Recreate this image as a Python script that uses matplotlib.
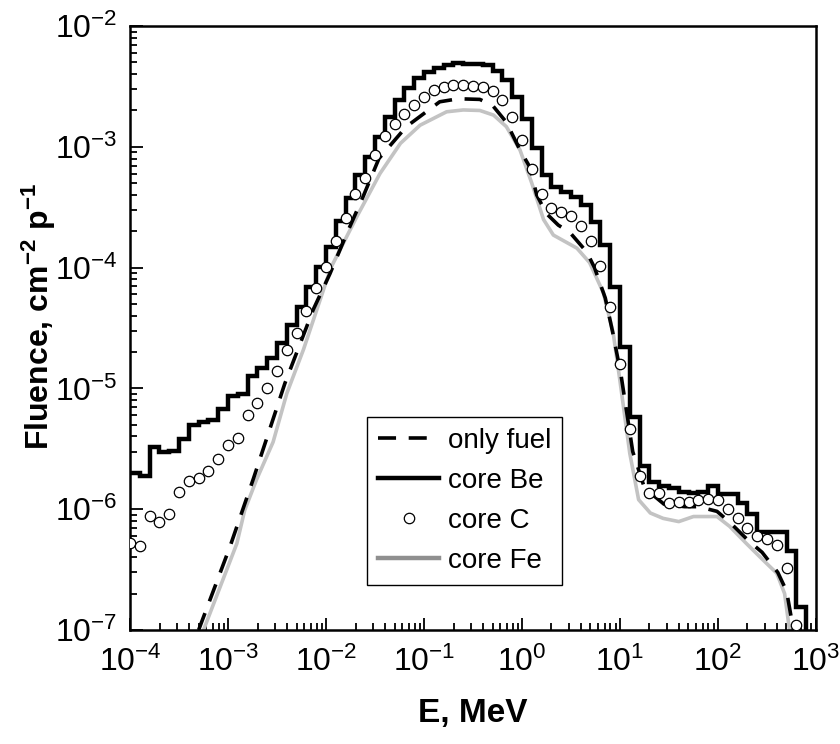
import matplotlib
matplotlib.use("Agg")
import matplotlib.pyplot as plt
from matplotlib import font_manager
from matplotlib.lines import Line2D
import numpy as np

# core Be: histogram, 10 bins per decade from 1e-4 MeV
be_edges = 10 ** (-4 + np.arange(71) / 10)
be = [2.0e-6, 1.9e-6, 3.3e-6, 3.0e-6, 3.05e-6, 3.8e-6, 5.0e-6, 5.3e-6, 5.5e-6, 6.7e-6,
      8.7e-6, 9.0e-6, 1.26e-5, 1.47e-5, 1.78e-5, 2.36e-5, 3.35e-5, 4.75e-5, 6.95e-5, 1.02e-4,
      1.49e-4, 2.45e-4, 3.74e-4, 5.85e-4, 8.2e-4, 1.21e-3, 1.78e-3, 2.44e-3, 3.05e-3, 3.69e-3,
      4.19e-3, 4.46e-3, 4.75e-3, 4.9e-3, 4.85e-3, 4.85e-3, 4.8e-3, 4.24e-3, 3.57e-3, 2.6e-3,
      1.7e-3, 9.8e-4, 5.85e-4, 4.68e-4, 4.26e-4, 3.87e-4, 3.3e-4, 2.4e-4, 1.54e-4, 6.95e-5,
      2.2e-5, 5.8e-6, 2.3e-6, 1.69e-6, 1.55e-6, 1.49e-6, 1.4e-6, 1.37e-6, 1.4e-6, 1.55e-6,
      1.33e-6, 1.33e-6, 1.12e-6, 9.2e-7, 6.5e-7, 6.5e-7, 6.5e-7, 4.47e-7, 1.56e-7, 1e-8]

# core C: points
c_e = 10 ** (-4 + np.arange(69) / 10)
c = [5.3e-7, 5.0e-7, 8.8e-7, 7.9e-7, 9.2e-7, 1.38e-6, 1.71e-6, 1.8e-6, 2.07e-6, 2.59e-6,
     3.4e-6, 3.9e-6, 6.0e-6, 7.6e-6, 1.0e-5, 1.4e-5, 2.08e-5, 2.89e-5, 4.4e-5, 6.8e-5,
     1.02e-4, 1.66e-4, 2.56e-4, 4.04e-4, 5.48e-4, 8.55e-4, 1.24e-3, 1.56e-3, 1.86e-3, 2.22e-3,
     2.6e-3, 2.95e-3, 3.15e-3, 3.25e-3, 3.22e-3, 3.2e-3, 3.15e-3, 2.92e-3, 2.44e-3, 1.75e-3,
     1.15e-3, 6.6e-4, 4.05e-4, 3.1e-4, 2.9e-4, 2.66e-4, 2.22e-4, 1.66e-4, 1.03e-4, 4.74e-5,
     1.6e-5, 4.61e-6, 1.9e-6, 1.35e-6, 1.35e-6, 1.13e-6, 1.15e-6, 1.14e-6, 1.19e-6, 1.21e-6,
     1.19e-6, 1.0e-6, 8.5e-7, 7.0e-7, 6.0e-7, 5.7e-7, 5.06e-7, 3.24e-7, 1.11e-7]

# only fuel: log10(E) and fluence
fuel_loge = [-3.30, -2.98, -2.74, -2.42, -2.13, -1.96, -1.79, -1.62, -1.46, -1.18,
             -0.84, -0.65, -0.43, -0.30, -0.16, -0.02, 0.08, 0.15, 0.25, 0.37,
             0.49, 0.66, 0.74, 0.85, 0.93, 1.01, 1.13, 1.25, 1.45, 1.66,
             1.80, 1.99, 2.12, 2.31, 2.45, 2.61, 2.70, 2.77, 2.80]
fuel = [1.0e-7, 4.9e-7, 1.8e-6, 1.1e-5, 4.5e-5, 8.9e-5, 1.9e-4, 3.9e-4, 8.0e-4, 1.47e-3,
        2.36e-3, 2.5e-3, 2.47e-3, 2.2e-3, 1.6e-3, 9.4e-4, 6.8e-4, 4.0e-4, 2.8e-4, 2.25e-4,
        1.95e-4, 1.35e-4, 1.0e-4, 5.6e-5, 2.8e-5, 1.3e-5, 3.0e-6, 1.5e-6, 1.1e-6, 1.05e-6,
        1.05e-6, 9.6e-7, 7.8e-7, 5.5e-7, 4.4e-7, 3.0e-7, 2.1e-7, 1.0e-7, 5e-8]

# core Fe
fe_loge = [-3.25, -2.91, -2.83, -2.71, -2.54, -2.40, -2.23, -1.95, -1.69, -1.45,
           -1.24, -1.04, -0.77, -0.60, -0.43, -0.29, -0.16, -0.02, 0.10, 0.22,
           0.32, 0.56, 0.69, 0.83, 0.93, 1.00, 1.10, 1.19, 1.31, 1.44,
           1.60, 1.75, 1.99, 2.12, 2.29, 2.46, 2.60, 2.68, 2.73, 2.78]
fe = [1.0e-7, 5.2e-7, 9.8e-7, 1.75e-6, 3.6e-6, 9.1e-6, 2.1e-5, 1.0e-4, 2.6e-4, 6.0e-4,
      1.07e-3, 1.51e-3, 1.95e-3, 2.02e-3, 2.0e-3, 1.83e-3, 1.47e-3, 9.4e-4, 5.0e-4, 2.5e-4,
      1.86e-4, 1.45e-4, 1.1e-4, 6.2e-5, 2.9e-5, 1.15e-5, 2.9e-6, 1.2e-6, 9.3e-7, 8.4e-7,
      7.9e-7, 8.7e-7, 8.7e-7, 7.2e-7, 5.2e-7, 3.8e-7, 2.95e-7, 2.0e-7, 1.0e-7, 5e-8]

names = {f.name for f in font_manager.fontManager.ttflist}
narrow = 'Liberation Sans Narrow' if 'Liberation Sans Narrow' in names else 'Liberation Sans'
plt.rcParams['font.family'] = [narrow, 'DejaVu Sans']
plt.rcParams['mathtext.default'] = 'regular'
plt.rcParams['axes.unicode_minus'] = False

fig = plt.figure(figsize=(8.4, 7.44), dpi=100)
ax = fig.add_axes([0.1548, 0.1532, 0.8166, 0.8118])

gray = '#c3c3c3'
ax.plot(10 ** np.array(fe_loge), fe, color=gray, lw=2.6, zorder=2)
ax.plot(10 ** np.array(fuel_loge), fuel, color='black', lw=2.6, dashes=(5, 3.5), zorder=3)
ax.stairs(be, be_edges, color='black', lw=3.2, baseline=None, zorder=4)
ax.plot(c_e, c, 'o', ms=7.5, mfc='white', mec='black', mew=0.9, zorder=5)

ax.set_xscale('log')
ax.set_yscale('log')
ax.set_xlim(1e-4, 1e3)
ax.set_ylim(1e-7, 1e-2)

ax.tick_params(which='both', direction='in', labelsize=23, width=1.3)
ax.tick_params(which='major', length=9)
ax.tick_params(which='minor', length=5)
ax.tick_params(axis='x', pad=12)
ax.tick_params(axis='y', pad=9)
for s in ax.spines.values():
    s.set_linewidth(1.8)

ax.set_xlabel('E, MeV', fontsize=24, fontweight='bold')
ax.xaxis.set_label_coords(0.5, -0.112)
ax.set_ylabel('Fluence, cm$^{-2}$ p$^{-1}$', fontsize=23, fontweight='bold',
              family='Liberation Sans')
ax.yaxis.set_label_coords(-0.105, 0.52)

handles = [Line2D([], [], color='black', lw=2.6, dashes=(5, 3.5)),
           Line2D([], [], color='black', lw=3.2),
           Line2D([], [], ls='none', marker='o', ms=7.5, mfc='white', mec='black', mew=0.9),
           Line2D([], [], color='#8f8f8f', lw=3.2)]
labels = ['only fuel', 'core Be', 'core C', 'core Fe']
leg = ax.legend(handles, labels, loc='upper left', bbox_to_anchor=(0.3455, 0.3527),
                fontsize=20, frameon=True, fancybox=False, framealpha=1,
                edgecolor='black', handlelength=2.2, handletextpad=0.3,
                labelspacing=0.5, borderpad=0.4, borderaxespad=0)
leg.get_frame().set_linewidth(1.0)

plt.savefig('out.png', dpi=100)
